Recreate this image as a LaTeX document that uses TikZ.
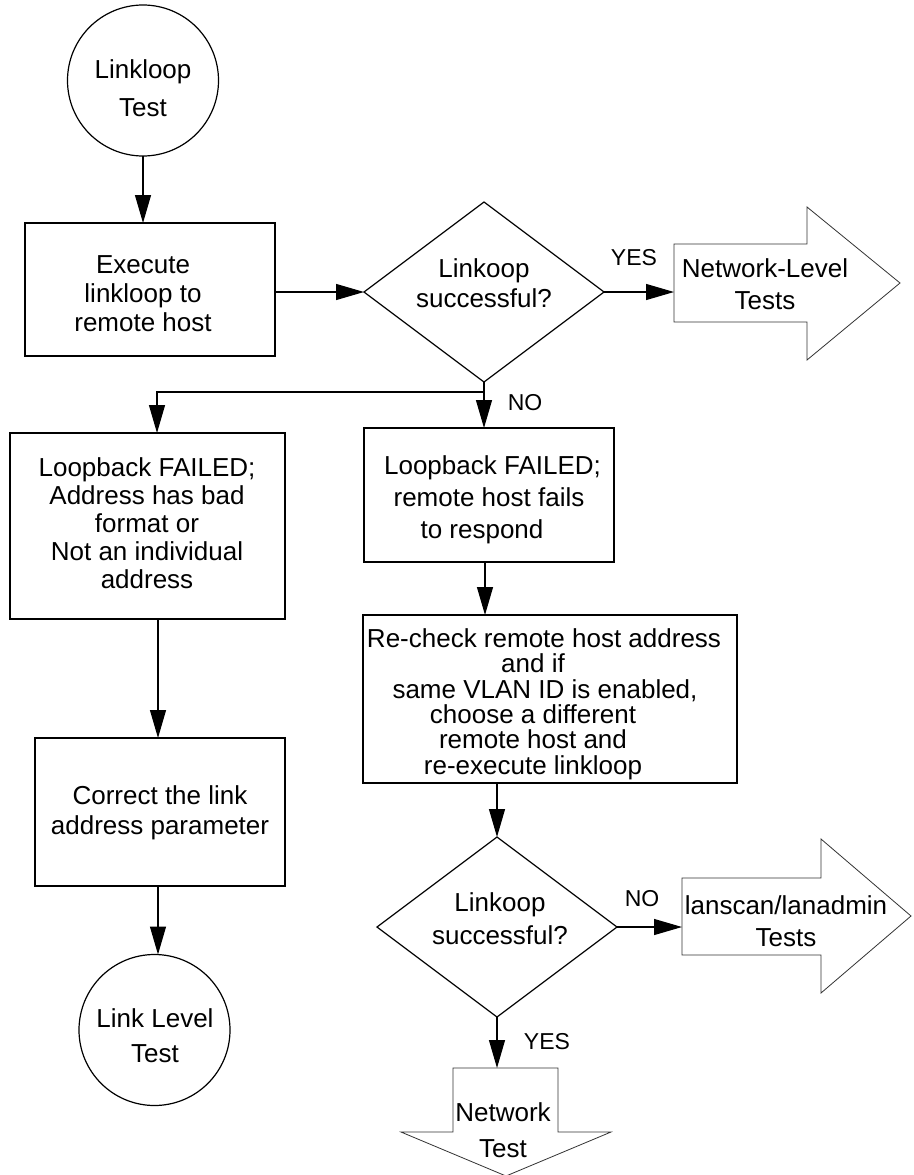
\documentclass[tikz,border=0pt]{standalone}
\usepackage{fontspec}
\setmainfont{Liberation Sans}
\usetikzlibrary{arrows.meta,shapes.geometric,calc}
\begin{document}
\begin{tikzpicture}[x=1pt,y=-1pt,
  every node/.style={inner sep=0pt, outer sep=0pt},
  shapeline/.style={draw=black, line width=1.2pt},
  procbox/.style={shapeline, rectangle},
  termcirc/.style={shapeline, circle, minimum size=151pt},
  decision/.style={shapeline, diamond, minimum width=240pt, minimum height=180pt},
  blockarrow/.style={draw=black!80, line width=0.8pt, line join=miter},
  txt/.style={align=center, font=\fontsize{26}{#1}\selectfont},
  txt/.default=29,
  lbl/.style={font=\fontsize{23}{27}\selectfont},
  conn/.style={line width=1.2pt, -{Triangle[length=28pt,width=16pt]}}
]
\fill[white] (0,0) rectangle (913,1175);
\useasboundingbox (0,0) rectangle (913,1175);

% start
\node[termcirc] (start) at (143,80.5) {};
\node[txt=38] (startT) at (143,88) {Linkloop\\Test};

% execute
\node[procbox, minimum width=250pt, minimum height=133pt] (exec) at (150,289.5) {};
\node[txt=29] (execT) at (143,294) {Execute\\linkloop to\\remote host};

% decision 1
\node[decision] (dec1) at (484,292) {};
\node[txt=30] (dec1T) at (484,283) {Linkoop\\successful?};

% Network-Level block arrow
\draw[blockarrow] (674,244) -- (807,244) -- (807,207) -- (900,283) -- (807,360) -- (807,322) -- (674,322) -- cycle;
\coordinate (nlIn) at (674,291);
\node[txt=32] (nlT) at (765,284) {Network-Level\\Tests};
\node[lbl] (yes1) at (634,258) {YES};

% left failure box
\node[procbox, minimum width=275pt, minimum height=186pt] (fmt) at (147.5,526) {};
\node[txt=28] (fmtT) at (147,523) {Loopback FAILED;\\Address has bad\\format or\\Not an individual\\address};

% middle failure box
\node[procbox, minimum width=250pt, minimum height=134pt] (resp) at (489,495) {};
\node[txt=32] (respT) at (489,500) {\hspace*{7pt}Loopback FAILED;\\remote host fails\\to respond\hspace*{14pt}};
\node[lbl] (no1) at (525,403) {NO};

% recheck box
\node[procbox, minimum width=374pt, minimum height=168pt] (rechk) at (550,699) {};
\node[txt=25.4] (rechkT) at (533,704) {\hspace*{22pt}Re-check remote host address\\and if\\\hspace*{24pt}same VLAN ID is enabled,\\choose a different\\remote host and\\re-execute linkloop};

% correct box
\node[procbox, minimum width=250pt, minimum height=148pt] (fix) at (160,812) {};
\node[txt=30] (fixT) at (160,813) {Correct the link\\address parameter};

% end circle
\node[termcirc] (end) at (154.5,1030) {};
\node[txt=35] (endT) at (155,1035.5) {Link Level\\Test};

% decision 2
\node[decision] (dec2) at (497,927) {};
\node[txt=33] (dec2T) at (500,918.5) {Linkoop\\successful?};

% lanscan block arrow
\draw[blockarrow] (682,878) -- (821,878) -- (821,839) -- (911,916) -- (821,993) -- (821,955) -- (682,955) -- cycle;
\coordinate (lsIn) at (682,927);
\node[txt=32] (lsT) at (786,921) {lanscan/lanadmin\\Tests};
\node[lbl] (no2) at (642,899) {NO};

% Network Test block arrow
\draw[blockarrow] (453,1068) -- (558,1068) -- (558,1132) -- (611,1132) -- (506,1176) -- (401,1132) -- (453,1132) -- cycle;
\coordinate (ntIn) at (497,1068);
\node[txt=36] (ntT) at (503,1130) {Network\\Test};
\node[lbl] (yes2) at (547,1042) {YES};

% connectors
\draw[conn] (start.south) -- (start.south |- exec.north);
\draw[conn] (exec.east |- dec1.west) -- (dec1.west);
\draw[conn] (dec1.east) -- (dec1.east -| nlIn);
\draw[conn] (dec1.south) -- (dec1.south |- resp.north);
\coordinate (split) at (484,392);
\draw[conn] (split) -| ([xshift=9.5pt]fmt.north);
\draw[conn] ([xshift=-4pt]resp.south) -- ([xshift=-4pt]resp.south |- rechk.north);
\draw[conn] (dec2.north |- rechk.south) -- (dec2.north);
\draw[conn] ([xshift=10.5pt]fmt.south) -- ([xshift=10.5pt]fmt.south |- fix.north);
\draw[conn] ([xshift=-2pt]fix.south) -- ([xshift=-2pt]fix.south |- end.north);
\draw[conn] (dec2.east) -- (lsIn);
\draw[conn] (dec2.south) -- (ntIn);
\end{tikzpicture}
\end{document}
